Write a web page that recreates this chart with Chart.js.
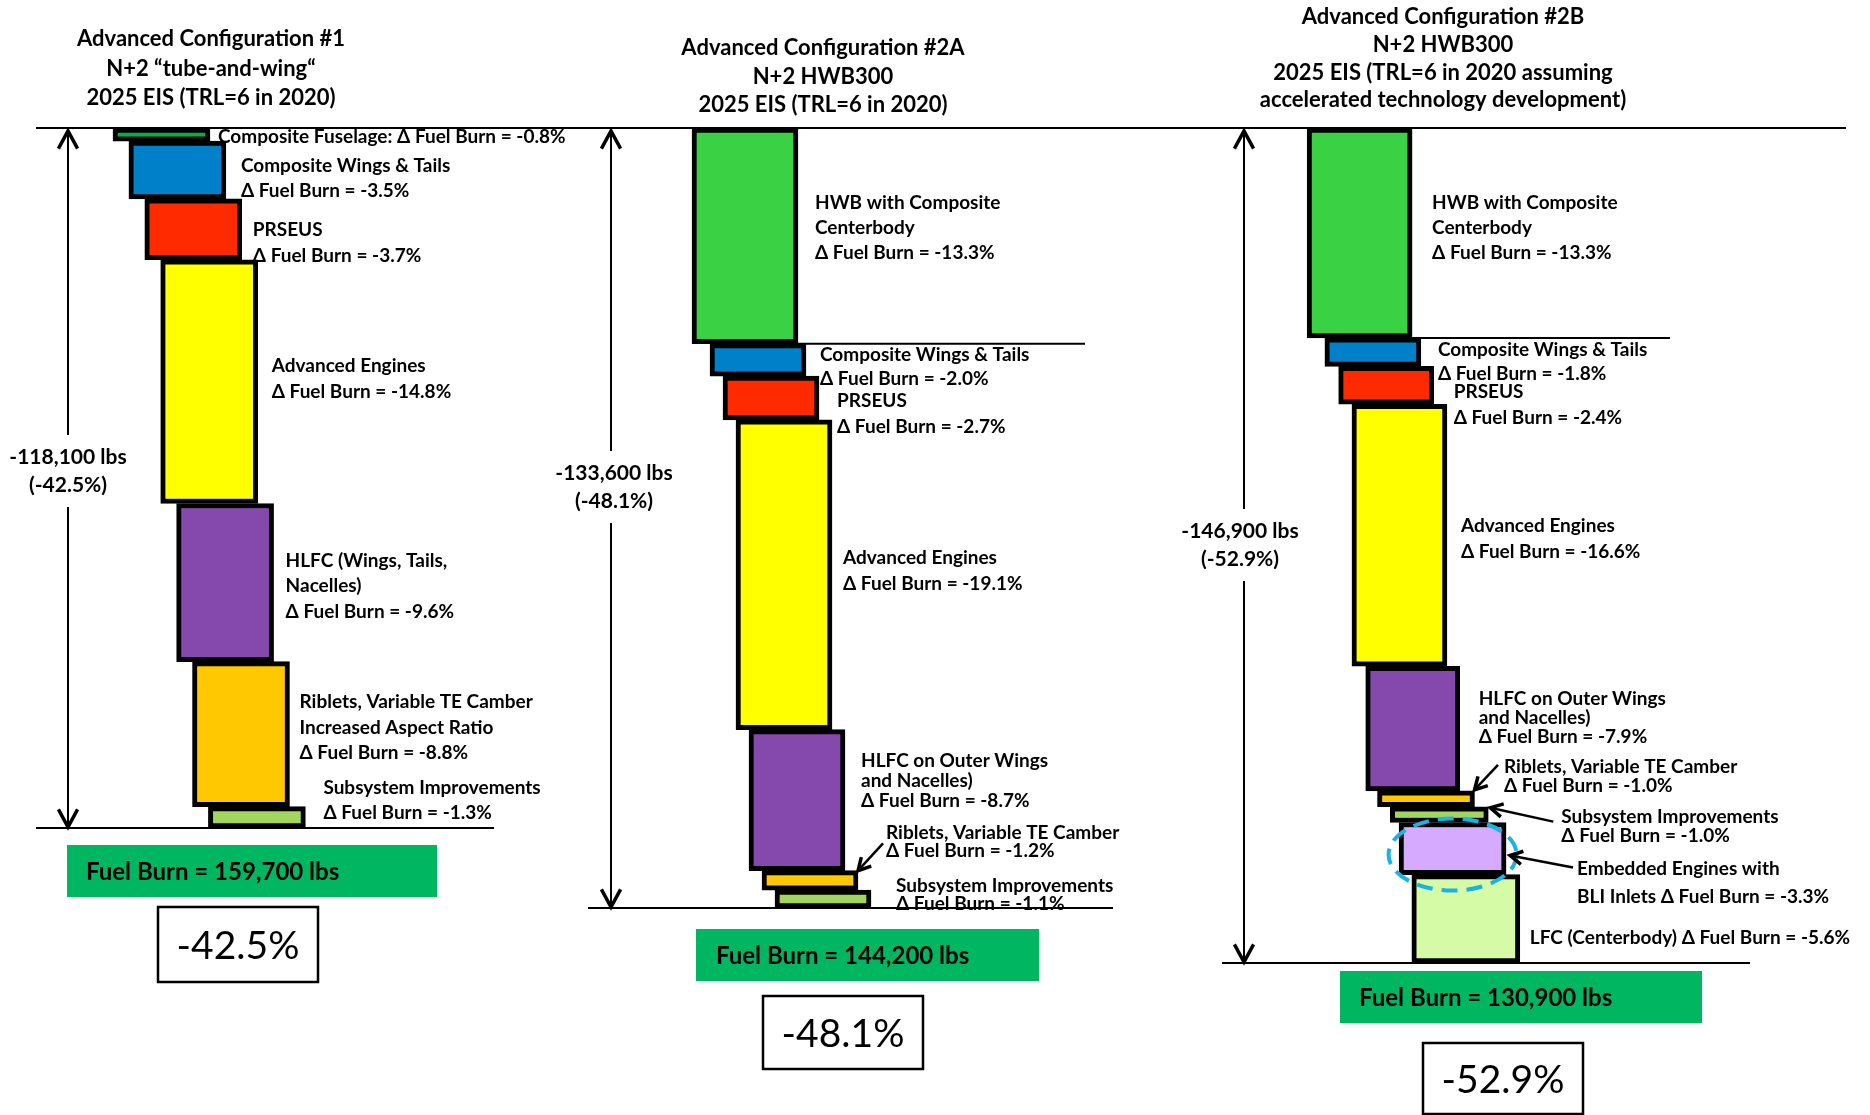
<!DOCTYPE html>
<html>
<head>
  <title>Fuel Burn Reduction</title>
  <script src="https://cdn.jsdelivr.net/npm/chart.js"></script>
  <style>
    body { margin: 0; background: #fff; }
    #wrap { position: relative; width: 1870px; height: 1115px; }
    #wrap canvas { position: absolute; left: 0; top: 0; }
  </style>
</head>
<body>
<div id="wrap">
  <canvas id="cfg1" width="1870" height="1115"></canvas>
  <canvas id="cfg2a" width="1870" height="1115"></canvas>
  <canvas id="cfg2b" width="1870" height="1115"></canvas>
</div>
<script>
  // ---- data ----
  const titles1 = ['Advanced Configuration #1', 'N+2 \u201Ctube-and-wing\u201C', '2025 EIS (TRL=6 in 2020)'];
  // last entry of each name is the prefix put in front of "Δ Fuel Burn = x%"
  const names1 = [
    ['Composite Fuselage: '],
    ['Composite Wings & Tails', ''],
    ['PRSEUS', ''],
    ['Advanced Engines', ''],
    ['HLFC (Wings, Tails,', 'Nacelles)', ''],
    ['Riblets, Variable TE Camber', 'Increased Aspect Ratio', ''],
    ['Subsystem Improvements', '']
  ];
  const deltas1 = [-0.8, -3.5, -3.7, -14.8, -9.6, -8.8, -1.3];

  const titles2a = ['Advanced Configuration #2A', 'N+2 HWB300', '2025 EIS (TRL=6 in 2020)'];
  const names2a = [
    ['HWB with Composite', 'Centerbody', ''],
    ['Composite Wings & Tails', ''],
    ['PRSEUS', ''],
    ['Advanced Engines', ''],
    ['HLFC on Outer Wings', 'and Nacelles)', ''],
    ['Riblets, Variable TE Camber', ''],
    ['Subsystem Improvements', '']
  ];
  const deltas2a = [-13.3, -2.0, -2.7, -19.1, -8.7, -1.2, -1.1];

  const titles2b = ['Advanced Configuration #2B', 'N+2 HWB300', '2025 EIS (TRL=6 in 2020 assuming', 'accelerated technology development)'];
  const names2b = [
    ['HWB with Composite', 'Centerbody', ''],
    ['Composite Wings & Tails', ''],
    ['PRSEUS', ''],
    ['Advanced Engines', ''],
    ['HLFC on Outer Wings', 'and Nacelles)', ''],
    ['Riblets, Variable TE Camber', ''],
    ['Subsystem Improvements', ''],
    ['Embedded Engines with', 'BLI Inlets '],
    ['LFC (Centerbody) ']
  ];
  const deltas2b = [-13.3, -1.8, -2.4, -16.6, -7.9, -1.0, -1.0, -3.3, -5.6];

  const reductionLbs = [-118100, -133600, -146900];
  const totalPct = [-42.5, -48.1, -52.9];
  const fuelBurnLbs = [159700, 144200, 130900];

  // ---- styles / layout ----
  const FONT = "Lato, 'Open Sans', sans-serif";
  const W = 1870, H = 1115;

  const panels = [
    {
      id: 'cfg1', title: titles1, names: names1, deltas: deltas1, k: 0,
      colors: ['#00b050', '#0080c8', '#ff2a00', '#ffff00', '#8549ad', '#ffc800', '#a2d65f'],
      widths: [97, 97, 97, 97, 97, 97, 97],
      c0: 161.5, step: 15.9, top: 128, bottom: 828,
      titleX: 211, titleY: 39, titleLH: 29.5,
      topLine: [36, 1846], bottomLine: [36, 494], midLine: null,
      arrowX: 68, arrowTextX: 68, arrowTextY: 457,
      greenBox: [67, 845, 370, 52], greenTextX: 86,
      pctBox: [158, 907, 160, 75],
      labels: [[8, 2, 25], [15, -4, 25], [11, 1, 26], [14, -16, 26], [12, -22, 25.5], [10, -32, 25.5], [18, -29, 25]],
      arrows: {}
    },
    {
      id: 'cfg2a', title: titles2a, names: names2a, deltas: deltas2a, k: 1,
      colors: ['#3ad144', '#0080c8', '#ff2a00', '#ffff00', '#8549ad', '#ffc800', '#a2d65f'],
      widths: [106, 96, 96, 96, 96, 96, 96],
      c0: 745, step: 13, top: 128, bottom: 908,
      titleX: 823, titleY: 48, titleLH: 28.5,
      topLine: null, bottomLine: [588, 1113], midLine: 1085,
      arrowX: 611, arrowTextX: 614, arrowTextY: 473,
      greenBox: [696, 929, 343, 52], greenTextX: 716,
      pctBox: [763, 996, 160, 73],
      labels: [[17, -33, 25], [14, -5, 24], [18, 3, 26], [11, -17, 26], [16, -39, 20], [28, -48, 18], [25, -13, 18]],
      arrows: { 5: { tip: [0, 0], tail: [-3, 11] } }
    },
    {
      id: 'cfg2b', title: titles2b, names: names2b, deltas: deltas2b, k: 2,
      colors: ['#3ad144', '#0080c8', '#ff2a00', '#ffff00', '#8549ad', '#ffc800', '#a2d65f', '#d6aaff', '#d6fba6'],
      widths: [105, 96, 95, 95, 94, 97, 98, 107, 108],
      c0: 1359.6, step: 13.28, top: 128, bottom: 963,
      titleX: 1443, titleY: 17, titleLH: 27.8,
      topLine: null, bottomLine: [1222, 1750], midLine: 1670,
      arrowX: 1244, arrowTextX: 1240, arrowTextY: 531,
      greenBox: [1340, 971, 362, 52], greenTextX: 1359,
      pctBox: [1423, 1043, 160, 71],
      labels: [[20, -30, 25], [17, -2, 24], [20, 7, 26], [14, -9, 26], [19, -30, 19], [29.5, -32, 19], [73, 2, 19], [71, 20, 28], [10, 19, 0]],
      arrows: {
        5: { tip: [0, -1], tail: [-6, -2] },
        6: { tip: [2, 1], tail: [-8, 5] },
        7: { tip: [4, 33], tail: [-4, -1] }
      },
      ellipse: { bar: 7, dx: 0, dy: 6, rx: 64, ry: 36 }
    }
  ];

  function hLine(ctx, x1, x2, y) {
    ctx.beginPath(); ctx.moveTo(x1, y); ctx.lineTo(x2, y); ctx.stroke();
  }

  function arrowHead(ctx, tipX, tipY, fromX, fromY, size) {
    const a = Math.atan2(tipY - fromY, tipX - fromX);
    ctx.beginPath();
    ctx.moveTo(tipX - size * Math.cos(a - 0.5), tipY - size * Math.sin(a - 0.5));
    ctx.lineTo(tipX, tipY);
    ctx.lineTo(tipX - size * Math.cos(a + 0.5), tipY - size * Math.sin(a + 0.5));
    ctx.stroke();
  }

  // bar element i lives in dataset i at category slot i
  function barAt(chart, i) {
    return chart.getDatasetMeta(i).data[i];
  }

  function makeOverlay(p) {
    return {
      id: 'overlay',
      afterDraw(chart) {
        const ctx = chart.ctx;
        const ys = chart.scales.y;
        const k = p.k;
        const y0 = ys.getPixelForValue(0);
        const yEnd = ys.getPixelForValue(totalPct[k]);
        ctx.save();
        ctx.fillStyle = '#000';
        ctx.strokeStyle = '#000';

        // title
        ctx.font = 'bold 22px ' + FONT;
        ctx.textAlign = 'center';
        ctx.textBaseline = 'middle';
        p.title.forEach((t, i) => ctx.fillText(t, p.titleX, p.titleY + i * p.titleLH));

        // reference lines
        ctx.lineWidth = 2;
        if (p.topLine) hLine(ctx, p.topLine[0], p.topLine[1], y0);
        hLine(ctx, p.bottomLine[0], p.bottomLine[1], yEnd);
        if (p.midLine) {
          const b0 = barAt(chart, 0);
          hLine(ctx, b0.x + b0.width / 2, p.midLine, ys.getPixelForValue(p.deltas[0]));
        }

        // total reduction arrow
        const tY1 = p.arrowTextY, tY2 = p.arrowTextY + 28;
        ctx.lineWidth = 2;
        ctx.beginPath();
        ctx.moveTo(p.arrowX, y0 + 3); ctx.lineTo(p.arrowX, tY1 - 22);
        ctx.moveTo(p.arrowX, tY2 + 22); ctx.lineTo(p.arrowX, yEnd - 1);
        ctx.stroke();
        ctx.lineWidth = 3.5;
        arrowHead(ctx, p.arrowX, y0 + 3, p.arrowX, y0 + 50, 20);
        arrowHead(ctx, p.arrowX, yEnd - 1, p.arrowX, yEnd - 50, 20);
        ctx.font = 'bold 21px ' + FONT;
        ctx.fillText(reductionLbs[k].toLocaleString('en-US') + ' lbs', p.arrowTextX, tY1);
        ctx.fillText('(' + totalPct[k].toFixed(1) + '%)', p.arrowTextX, tY2);

        // ellipse highlight
        if (p.ellipse) {
          const e = p.ellipse;
          const b = barAt(chart, e.bar);
          ctx.save();
          ctx.strokeStyle = '#19b3e6';
          ctx.lineWidth = 4;
          ctx.setLineDash([16, 9]);
          ctx.beginPath();
          ctx.ellipse(b.x + e.dx, (b.y + b.base) / 2 + e.dy, e.rx, e.ry, 0, 0, Math.PI * 2);
          ctx.stroke();
          ctx.restore();
        }

        // item labels
        ctx.font = 'bold 19px ' + FONT;
        ctx.textAlign = 'left';
        p.names.forEach((lines, i) => {
          const b = barAt(chart, i);
          const right = b.x + b.width / 2;
          const top = Math.min(b.y, b.base);
          const cy = (b.y + b.base) / 2;
          const [dx, dy, lh] = p.labels[i];
          const tx = right + dx, ty = cy + dy;
          lines.forEach((ln, j) => {
            const txt = j === lines.length - 1
              ? ln + '\u0394 Fuel Burn = ' + p.deltas[i].toFixed(1) + '%'
              : ln;
            ctx.fillText(txt, tx, ty + j * lh);
          });
          const ar = p.arrows[i];
          if (ar) {
            const ax = right + ar.tip[0], ay = top + ar.tip[1];
            const fx = tx + ar.tail[0], fy = ty + ar.tail[1];
            ctx.lineWidth = 2.5;
            ctx.beginPath(); ctx.moveTo(fx, fy); ctx.lineTo(ax, ay); ctx.stroke();
            ctx.lineWidth = 3.5;
            arrowHead(ctx, ax, ay, fx, fy, 14);
          }
        });

        // fuel burn box
        const g = p.greenBox;
        ctx.fillStyle = '#00b661';
        ctx.fillRect(g[0], g[1], g[2], g[3]);
        ctx.fillStyle = '#000';
        ctx.font = 'bold 24px ' + FONT;
        ctx.fillText('Fuel Burn = ' + fuelBurnLbs[k].toLocaleString('en-US') + ' lbs', p.greenTextX, g[1] + g[3] / 2 + 1);

        // percentage box
        const q = p.pctBox;
        ctx.lineWidth = 2.5;
        ctx.strokeRect(q[0], q[1], q[2], q[3]);
        ctx.font = '39px ' + FONT;
        ctx.textAlign = 'center';
        ctx.fillText(totalPct[k].toFixed(1) + '%', q[0] + q[2] / 2, q[1] + q[3] / 2 + 2);

        ctx.restore();
      }
    };
  }

  function buildPanel(p) {
    const n = p.deltas.length;
    const labels = p.names.map(nm => nm.join(' ').trim());
    let cum = 0;
    const datasets = p.names.map((name, i) => {
      const start = cum;
      cum = cum + p.deltas[i];
      const end = cum;
      return {
        label: labels[i],
        data: labels.map((_, j) => (j === i ? [start, end] : null)),
        backgroundColor: p.colors[i],
        borderColor: '#000',
        borderWidth: 5,
        borderSkipped: false,
        barThickness: p.widths[i],
        grouped: false,
        clip: false
      };
    });
    // category slots of width `step`, first slot centred on c0
    const left = p.c0 - p.step / 2;
    const right = left + n * p.step;
    new Chart(document.getElementById(p.id), {
      type: 'bar',
      data: { labels: labels, datasets: datasets },
      options: {
        responsive: false,
        animation: false,
        events: [],
        layout: { padding: { left: left, right: W - right, top: p.top, bottom: H - p.bottom } },
        scales: {
          x: { type: 'category', offset: true, display: false },
          y: { type: 'linear', min: totalPct[p.k], max: 0, display: false }
        },
        plugins: { legend: { display: false }, tooltip: { enabled: false } }
      },
      plugins: [makeOverlay(p)]
    });
  }

  panels.forEach(buildPanel);
</script>
</body>
</html>
